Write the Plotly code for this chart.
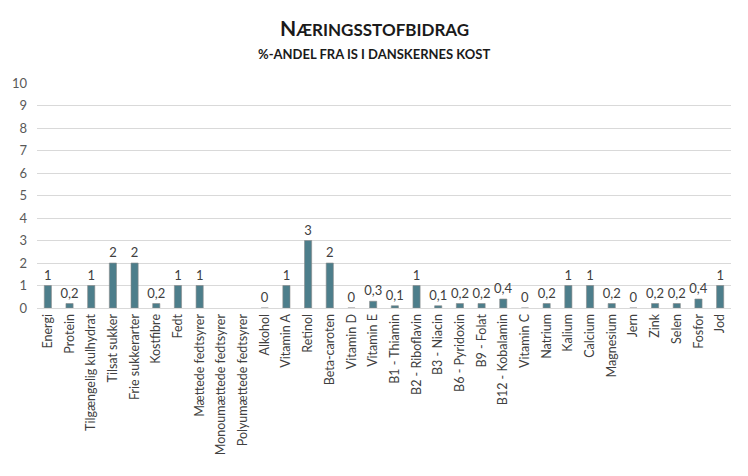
import plotly.graph_objects as go

categories = [
    "Energi", "Protein", "Tilgængelig kulhydrat", "Tilsat sukker", "Frie sukkerarter",
    "Kostfibre", "Fedt", "Mættede fedtsyrer", "Monoumættede fedtsyrer",
    "Polyumættede fedtsyrer", "Alkohol", "Vitamin A", "Retinol", "Beta-caroten",
    "Vitamin D", "Vitamin E", "B1 - Thiamin", "B2 - Riboflavin", "B3 - Niacin",
    "B6 - Pyridoxin", "B9 - Folat", "B12 - Kobalamin", "Vitamin C", "Natrium",
    "Kalium", "Calcium", "Magnesium", "Jern", "Zink", "Selen", "Fosfor", "Jod",
]
values = [
    1, 0.2, 1, 2, 2, 0.2, 1, 1, None, None, 0, 1, 3, 2, 0, 0.3,
    0.1, 1, 0.1, 0.2, 0.2, 0.4, 0, 0.2, 1, 1, 0.2, 0, 0.2, 0.2, 0.4, 1,
]

# labels use danish decimal comma, blank for missing values
labels = ["" if v is None else f"{v:g}".replace(".", ",") for v in values]

fig = go.Figure(go.Bar(
    x=categories,
    y=values,
    text=labels,
    textposition="outside",
    textfont=dict(size=13, color="#404040"),
    cliponaxis=False,
    width=0.33,
    marker=dict(color="#4D7E8B", line=dict(color="#8a8a8a", width=0.6)),
))

# page body has an 8px margin, so the figure is drawn 8px in from the window
# plot area in window px: x 37..731, y 83..308
title_x = (374 - 37) / 694

fig.add_annotation(
    text="<b><span style='font-size:21px'>N</span>ÆRINGSSTOFBIDRAG</b>",
    xref="paper", yref="paper", x=title_x, y=(308 - 28) / 225,
    xanchor="center", yanchor="middle", showarrow=False,
    font=dict(size=17, color="#1a1a1a"),
)
fig.add_annotation(
    text="<b>%-ANDEL FRA IS I DANSKERNES KOST</b>",
    xref="paper", yref="paper", x=title_x, y=(308 - 54) / 225,
    xanchor="center", yanchor="middle", showarrow=False,
    font=dict(size=13, color="#1a1a1a"),
)

fig.update_layout(
    width=740, height=468,
    margin=dict(l=29, r=17, t=75, b=168),
    paper_bgcolor="white", plot_bgcolor="white",
    font=dict(family="Lato, Open Sans, sans-serif", color="#595959"),
    separators=",.",
    showlegend=False,
    uniformtext=dict(minsize=13, mode="show"),
    xaxis=dict(
        tickangle=-90, tickfont=dict(size=12.5, color="#404040"),
        showline=True, linecolor="#d9d9d9", ticks="", automargin=False,
    ),
    yaxis=dict(
        range=[0, 10], dtick=1, tickfont=dict(size=13, color="#595959"),
        showgrid=True, gridcolor="#d9d9d9", zeroline=False, ticks="",
        automargin=False, ticklabelstandoff=9,
    ),
    bargap=0.67,
)

fig.write_html("out.html")
